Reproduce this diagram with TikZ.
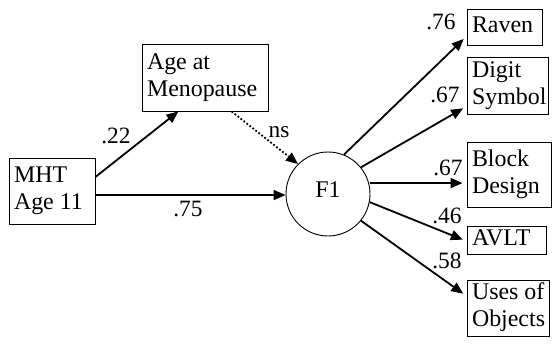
\documentclass[tikz,border=0pt]{standalone}
\usepackage{fontspec}
\setmainfont{Liberation Serif}
\usetikzlibrary{arrows.meta,calc}
\newcommand\boxlines[2]{\makebox[#1][l]{\begin{tabular}{@{}l@{}}#2\end{tabular}}}
\begin{document}
\begin{tikzpicture}[x=1bp,y=-1bp,
  box/.style={draw,line width=0.9bp,inner xsep=5bp,inner ysep=0bp,font=\fontsize{24}{27}\selectfont},
  lbl/.style={inner sep=0bp,font=\fontsize{23.5}{27}\selectfont},
  path/.style={line width=1.8bp,-{Triangle[length=12bp,width=10bp]}},
  dotpath/.style={line width=1.8bp,dotted,-{Triangle[length=12bp,width=10bp]}}
]
\useasboundingbox (0,0) rectangle (553,346);
\node[box,minimum height=66bp] (mht) at (52,191) {\boxlines{76bp}{MHT\\Age 11}};
\node[box,minimum height=67bp] (age) at (205,77.5) {\boxlines{116bp}{Age at\\Menopause}};
\node[draw,circle,line width=0.9bp,minimum size=84bp,inner sep=0bp] (f1) at (328,194) {};
\node[lbl,font=\fontsize{24}{27}\selectfont] (f1t) at (328,190) {F1};
\node[box,minimum height=36bp] (raven) at (504.5,27) {\boxlines{65bp}{Raven}};
\node[box,minimum height=57bp] (digit) at (507.5,85.5) {\boxlines{71bp}{Digit\\Symbol}};
\node[box,minimum height=65bp] (block) at (509,174.5) {\boxlines{74bp}{Block\\Design}};
\node[box,minimum height=28bp] (avlt) at (506.5,240) {\boxlines{69bp}{AVLT}};
\node[box,minimum height=56bp] (uses) at (508,308) {\boxlines{72bp}{Uses of\\Objects}};

\coordinate (a1) at ($(mht.north east)!0.29!(mht.south east)$);
\coordinate (a2) at ($(age.south west)!0.29!(age.south east)$);
\coordinate (b1) at ($(mht.north east)!0.56!(mht.south east)$);
\coordinate (c1) at ($(age.south west)!0.71!(age.south east)$);
\coordinate (r) at ($(raven.north west)!0.75!(raven.south west)$);
\coordinate (d) at ($(digit.north west)!0.86!(digit.south west)$);
\coordinate (bl) at ($(block.north west)!0.63!(block.south west)$);
\coordinate (av) at ($(avlt.north west)!0.54!(avlt.south west)$);
\coordinate (us) at ($(uses.north west)!0.29!(uses.south west)$);

\draw[path] (a1) -- (a2);
\draw[path] (b1) -- (b1 -| f1.west);
\draw[dotpath] (c1) -- (f1.135);
\draw[path,shorten >=4bp] (f1.68) -- (r);
\draw[path,shorten >=4bp] (f1.39) -- (d);
\draw[path,shorten >=4bp] (bl -| f1.east) -- (bl);
\draw[path,shorten >=4bp] (f1.-11) -- (av);
\draw[path,shorten >=4bp] (f1.-39) -- (us);

\node[lbl] (l22) at (116,136) {.22};
\node[lbl] (l75) at (188,209) {.75};
\node[lbl] (lns) at (279,132) {ns};
\node[lbl] (l76) at (441,22) {.76};
\node[lbl] (l67a) at (445,95) {.67};
\node[lbl] (l67b) at (448,168) {.67};
\node[lbl] (l46) at (447,216) {.46};
\node[lbl] (l58) at (447,261) {.58};
\end{tikzpicture}
\end{document}
